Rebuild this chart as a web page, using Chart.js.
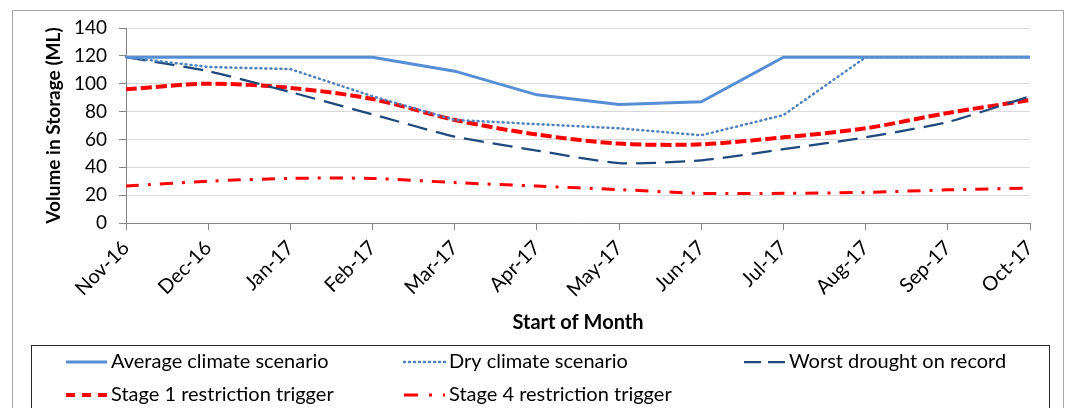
<!DOCTYPE html>
<html>
<head>
<meta charset="utf-8">
<script src="https://cdn.jsdelivr.net/npm/chart.js@4"></script>
<style>
  body { margin: 0; background: #fff; }
  canvas { display: block; }
</style>
</head>
<body>
<canvas id="chart" width="1070" height="408"></canvas>
<script>
const months = ['Nov-16', 'Dec-16', 'Jan-17', 'Feb-17', 'Mar-17', 'Apr-17',
  'May-17', 'Jun-17', 'Jul-17', 'Aug-17', 'Sep-17', 'Oct-17'];

const averageClimate = [119, 119, 119, 119, 109, 92, 85, 87, 119, 119, 119, 119];
const dryClimate = [119, 112, 110.5, 91, 74, 71, 68, 63, 77.5, 119, 119, 119];
const worstDrought = [119, 109, 94, 78, 62, 52, 43, 45, 53, 61.5, 72.5, 91];
const stage1Trigger = [96, 100, 97, 89, 74, 63.5, 57, 56.5, 61.5, 68, 79, 88.3];
const stage4Trigger = [26.5, 30, 32, 32, 29, 26.5, 24, 21.3, 21.3, 22, 23.8, 25];

const yTicks = [0, 20, 40, 60, 80, 100, 120, 140];

const FONT = 'Lato, "Open Sans", sans-serif';
const AXIS_GREY = '#868686';

// white background, outer chart frame and the boxed legend
const frame = {
  id: 'frame',
  beforeDraw(chart) {
    const ctx = chart.ctx;
    ctx.save();
    ctx.fillStyle = '#fff';
    ctx.fillRect(0, 0, chart.width, chart.height);
    ctx.strokeStyle = '#a6a6a6';
    ctx.lineWidth = 1;
    ctx.strokeRect(12.5, 10.5, 1051, 420);
    ctx.restore();
  },
  afterDraw(chart) {
    const ctx = chart.ctx;
    ctx.save();
    ctx.strokeStyle = '#262626';
    ctx.lineWidth = 1;
    ctx.strokeRect(31.5, 345.5, 1018, 80);

    const cols = [66, 404, 744];
    const rows = [362, 395];
    chart.data.datasets.forEach((ds, i) => {
      const x = cols[i % 3];
      const y = rows[Math.floor(i / 3)];
      ctx.beginPath();
      ctx.strokeStyle = ds.borderColor;
      ctx.lineWidth = ds.borderWidth;
      ctx.lineCap = ds.borderCapStyle || 'butt';
      ctx.setLineDash(ds.legendDash || ds.borderDash || []);
      ctx.moveTo(x, y);
      ctx.lineTo(x + 41, y);
      ctx.stroke();
      ctx.setLineDash([]);
      ctx.fillStyle = '#000';
      ctx.font = '20px ' + FONT;
      ctx.textBaseline = 'middle';
      ctx.textAlign = 'left';
      ctx.fillText(ds.label, x + 45, y);
    });
    ctx.restore();
  }
};

new Chart(document.getElementById('chart'), {
  type: 'line',
  data: {
    labels: months,
    datasets: [
      {
        label: 'Average climate scenario',
        data: averageClimate,
        borderColor: '#558ed5',
        borderWidth: 3,
        tension: 0
      },
      {
        label: 'Dry climate scenario',
        data: dryClimate,
        borderColor: '#4f81bd',
        borderWidth: 2.5,
        borderDash: [1, 4],
        borderCapStyle: 'round',
        legendDash: [1, 4],
        tension: 0
      },
      {
        label: 'Worst drought on record',
        data: worstDrought,
        borderColor: '#1f497d',
        borderWidth: 2.25,
        borderDash: [20, 9],
        legendDash: [17, 7],
        tension: 0.2
      },
      {
        label: 'Stage 1 restriction trigger',
        data: stage1Trigger,
        borderColor: '#ff0000',
        borderWidth: 4,
        borderDash: [11, 4],
        legendDash: [9, 7],
        tension: 0.3
      },
      {
        label: 'Stage 4 restriction trigger',
        data: stage4Trigger,
        borderColor: '#ff0000',
        borderWidth: 3,
        borderDash: [13, 9, 3, 9],
        legendDash: [14, 11, 3, 11],
        tension: 0.3
      }
    ]
  },
  options: {
    responsive: false,
    animation: false,
    layout: { padding: { left: 42, top: 28, right: 40, bottom: 73 } },
    elements: { point: { radius: 0 } },
    plugins: {
      legend: { display: false },
      tooltip: { enabled: false }
    },
    scales: {
      x: {
        offset: false,
        afterFit(scale) { scale.height = 112; },
        grid: {
          drawOnChartArea: false,
          color: AXIS_GREY,
          tickLength: 7
        },
        border: { color: AXIS_GREY },
        ticks: {
          autoSkip: false,
          minRotation: 45,
          maxRotation: 45,
          color: '#000',
          padding: 6,
          font: { family: FONT, size: 20 }
        },
        title: {
          display: true,
          text: 'Start of Month',
          color: '#000',
          padding: 0,
          font: { family: FONT, size: 20, weight: 'bold' }
        }
      },
      y: {
        min: 0,
        max: 140,
        afterFit(scale) { scale.width = 84; },
        afterBuildTicks(scale) { scale.ticks = yTicks.map(v => ({ value: v })); },
        grid: {
          color: '#d9d9d9',
          tickColor: AXIS_GREY,
          tickLength: 7
        },
        border: { color: AXIS_GREY },
        ticks: {
          color: '#000',
          padding: 12,
          font: { family: FONT, size: 19 }
        },
        title: {
          display: true,
          text: 'Volume in Storage (ML)',
          color: '#000',
          padding: 0,
          font: { family: FONT, size: 19, weight: 'bold' }
        }
      }
    }
  },
  plugins: [frame]
});
</script>
</body>
</html>
